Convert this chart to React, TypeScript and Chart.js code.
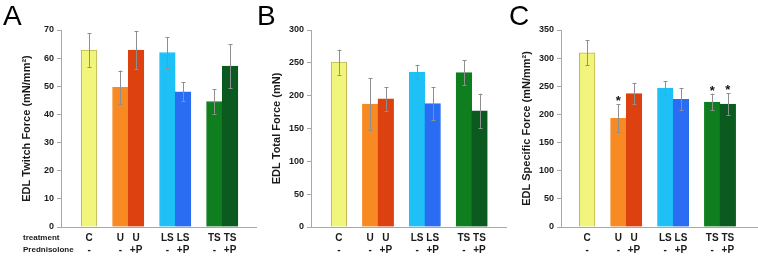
import React, { useEffect, useRef } from 'react';
import { Chart, registerables } from 'chart.js';

Chart.register(...registerables);

const FONT = '"Liberation Sans", Arial, Helvetica, sans-serif';
Chart.defaults.font.family = FONT;

// ---- data ----
const treatments = ['C', 'U', 'U', 'LS', 'LS', 'TS', 'TS'];
const prednisolone = ['-', '-', '+P', '-', '+P', '-', '+P'];

const twitchForce = [62.9, 49.6, 62.9, 62.0, 48.0, 44.6, 57.2];
const twitchErr = [6.0, 6.0, 6.8, 5.4, 3.4, 4.3, 7.8];

const totalForce = [251, 187, 195, 236, 188, 235, 177];
const totalErr = [19, 39.5, 18, 11, 25, 19, 26];

const specificForce = [309.5, 193, 237, 247, 227, 222, 218.5];
const specificErr = [22, 25, 19, 12.5, 19.5, 15, 19];
const specificSignificant = [false, true, false, false, false, true, true];
const noneSignificant = [false, false, false, false, false, false, false];

const barColors = ['#f2f57c', '#f78a22', '#dc410f', '#1ec0f6', '#2a6cf2', '#0e7e1e', '#0b5a1f'];
const barBorders = ['#bdb55a', '#f78a22', '#dc410f', '#1ec0f6', '#2a6cf2', '#0e7e1e', '#0b5a1f'];

const AXIS = '#a8a8a8';
const TEXT = '#1a1a1a';

// slot index along x: a gap of one slot whenever the treatment group changes
function slotPositions(cats: string[]): number[] {
  const out: number[] = [];
  let pos = 0;
  cats.forEach((c, i) => {
    if (i > 0) pos += c === cats[i - 1] ? 1 : 2;
    out.push(pos);
  });
  return out;
}

type PanelProps = {
  letter: string;
  letterX: number;
  values: number[];
  errors: number[];
  significant: boolean[];
  yMax: number;
  yStep: number;
  title: string;
  xMin: number;
  xMax: number;
  left: number;
  width: number;
  rowLabels: boolean;
};

function Panel(p: PanelProps) {
  const ref = useRef<HTMLCanvasElement>(null);
  useEffect(() => {
    if (!ref.current) return;
    const slots = slotPositions(treatments);

    const overlay = {
      id: 'overlay',
      afterDatasetsDraw(chart: any) {
        const ctx = chart.ctx;
        const ys = chart.scales.y;
        const meta = chart.getDatasetMeta(0);
        ctx.save();
        ctx.strokeStyle = '#8f8f8f';
        ctx.lineWidth = 1;
        meta.data.forEach((el: any, i: number) => {
          const x = Math.round(el.x) + 0.5;
          const top = ys.getPixelForValue(p.values[i] + p.errors[i]);
          const bot = ys.getPixelForValue(p.values[i] - p.errors[i]);
          ctx.beginPath();
          ctx.moveTo(x, top);
          ctx.lineTo(x, bot);
          ctx.moveTo(x - 2, Math.round(top) + 0.5);
          ctx.lineTo(x + 2, Math.round(top) + 0.5);
          ctx.moveTo(x - 2, Math.round(bot) + 0.5);
          ctx.lineTo(x + 2, Math.round(bot) + 0.5);
          ctx.stroke();
          if (p.significant[i]) {
            ctx.fillStyle = '#111';
            ctx.font = `bold 13px ${FONT}`;
            ctx.textAlign = 'center';
            ctx.textBaseline = 'alphabetic';
            ctx.fillText('*', el.x, top + 1);
          }
        });
        ctx.restore();
      },
      afterDraw(chart: any) {
        const ctx = chart.ctx;
        ctx.save();
        ctx.fillStyle = '#000';
        ctx.font = `28px ${FONT}`;
        ctx.textAlign = 'left';
        ctx.textBaseline = 'alphabetic';
        ctx.fillText(p.letter, p.letterX, 25);
        if (p.rowLabels) {
          const xs = chart.scales.x;
          ctx.fillStyle = TEXT;
          ctx.font = `bold 8px ${FONT}`;
          ctx.textBaseline = 'middle';
          ctx.fillText('treatment', 23, xs.top + 10.6);
          ctx.fillText('Prednisolone', 23, xs.top + 22.6);
        }
        ctx.restore();
      },
    };

    const chart = new Chart(ref.current, {
      type: 'bar',
      data: {
        datasets: [
          {
            data: p.values.map((v, i) => ({ x: slots[i], y: v })),
            backgroundColor: barColors,
            borderColor: barBorders,
            borderWidth: 1,
            barPercentage: 1,
            categoryPercentage: 1,
          },
        ],
      },
      options: {
        responsive: false,
        animation: false,
        layout: { padding: { top: 30, right: 0, bottom: 0, left: 0 } },
        plugins: { legend: { display: false }, tooltip: { enabled: false } },
        scales: {
          x: {
            type: 'linear',
            min: p.xMin,
            max: p.xMax,
            offset: false,
            grid: { display: false, drawTicks: false },
            border: { display: true, color: AXIS, width: 1 },
            afterBuildTicks: (s: any) => {
              s.ticks = slots.map((v) => ({ value: v }));
            },
            afterFit: (s: any) => {
              s.height = 29;
            },
            ticks: {
              autoSkip: false,
              maxRotation: 0,
              minRotation: 0,
              padding: 5,
              color: TEXT,
              font: { size: 10, weight: 'bold', lineHeight: 1.2 },
              callback: (v: any) => {
                const i = slots.indexOf(Number(v));
                return i >= 0 ? [treatments[i], prednisolone[i]] : '';
              },
            },
          },
          y: {
            min: 0,
            max: p.yMax,
            afterFit: (s: any) => {
              s.width = 61;
            },
            grid: { drawOnChartArea: false, tickLength: 4, color: AXIS },
            border: { display: true, color: AXIS, width: 1 },
            ticks: {
              stepSize: p.yStep,
              padding: 3,
              color: TEXT,
              font: { size: 9, weight: 'bold' },
            },
            title: {
              display: true,
              text: p.title,
              color: TEXT,
              font: { size: 11, weight: 'bold' },
              padding: { top: 20, bottom: 0 },
            },
          },
        },
      },
      plugins: [overlay],
    } as any);
    return () => chart.destroy();
  }, []);
  return (
    <canvas
      ref={ref}
      width={p.width}
      height={256}
      style={{ position: 'absolute', left: p.left, top: 0, width: p.width, height: 256 }}
    />
  );
}

export default function App() {
  return (
    <div style={{ position: 'absolute', left: 0, top: 0, width: 758, height: 256, background: '#fff', overflow: 'hidden' }}>
      <Panel
        letter="A"
        letterX={3}
        values={twitchForce}
        errors={twitchErr}
        significant={noneSignificant}
        yMax={70}
        yStep={10}
        title="EDL Twitch Force (mN/mm²)"
        xMin={-1.79}
        xMax={10.72}
        left={0}
        width={257}
        rowLabels={true}
      />
      <Panel
        letter="B"
        letterX={7}
        values={totalForce}
        errors={totalErr}
        significant={noneSignificant}
        yMax={300}
        yStep={50}
        title="EDL Total Force (mN)"
        xMin={-1.79}
        xMax={10.76}
        left={250}
        width={257}
        rowLabels={false}
      />
      <Panel
        letter="C"
        letterX={9}
        values={specificForce}
        errors={specificErr}
        significant={specificSignificant}
        yMax={350}
        yStep={50}
        title="EDL Specific Force (mN/mm²)"
        xMin={-1.67}
        xMax={10.93}
        left={500}
        width={258}
        rowLabels={false}
      />
    </div>
  );
}
